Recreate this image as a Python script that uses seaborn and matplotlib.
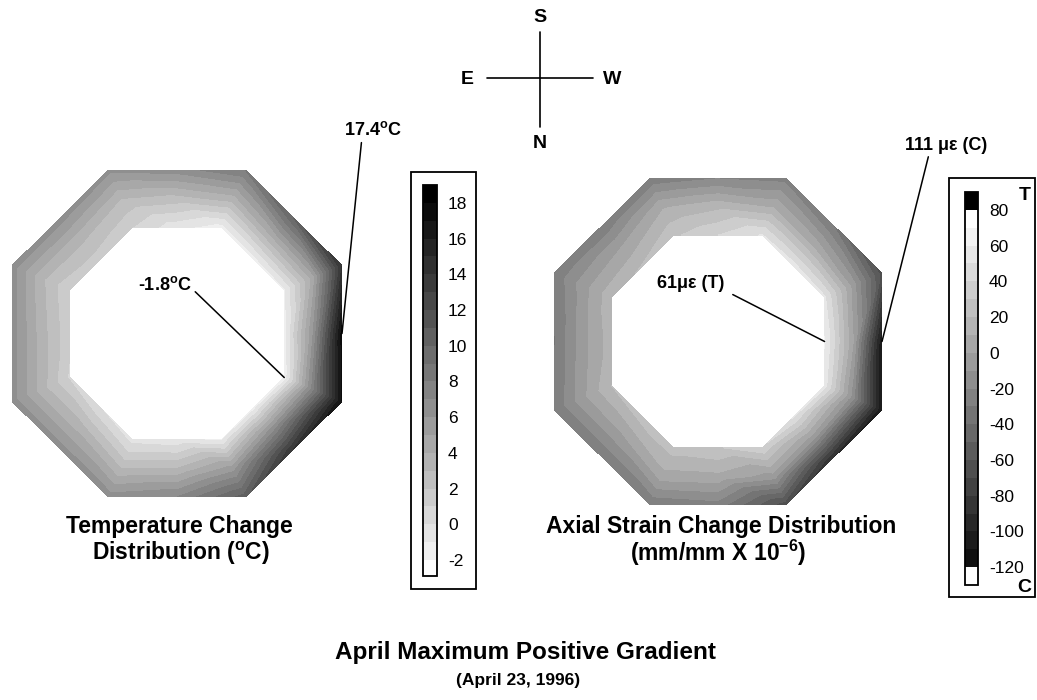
import numpy as np
import matplotlib
matplotlib.use("Agg")
import matplotlib.pyplot as plt
import matplotlib.tri as mtri
from matplotlib.colors import ListedColormap
from matplotlib.patches import Rectangle
import seaborn as sns

# Perimeter stations of the octagonal section (degrees, counter-clockwise from the W face)
station_deg = [0, 22.5, 45, 67.5, 90, 112.5, 135, 157.5,
               180, 202.5, 225, 247.5, 270, 292.5, 315, 337.5]

# Temperature change (deg C) at inner face, mid-wall and outer face
temp_inner = [-1.5, -1.2, -1.5, -1.5, -0.7, 1.0, 1.4, 1.0,
              1.2, 0.8, 0.0, -0.5, -0.8, -1.2, -1.5, -1.8]
temp_mid = [6.0, 4.5, 4.0, 3.5, 2.5, 3.0, 3.3, 3.3,
            3.5, 3.5, 3.5, 3.0, 3.0, 5.5, 6.5, 7.5]
temp_outer = [17.4, 14.0, 10.0, 8.0, 6.5, 6.3, 6.5, 6.5,
              6.5, 6.5, 6.5, 6.5, 7.0, 10.5, 14.0, 17.0]

# Axial strain change (microstrain, + tension / - compression)
strain_inner = [61, 52, 55, 51, 40, 28, 21, 17,
                15, 20, 25, 25, 29, 38, 51, 55]
strain_mid = [0, -5, 8, 8, 17, 8, 0, -5,
              -4, -3, -2, 5, 7, -5, -5, -16]
strain_outer = [-111, -65, -31, -25, -21, -29, -30, -29,
                -31, -30, -30, -30, -25, -67, -92, -110]

temp_levels = np.arange(-2, 20, 1)
temp_ticks = np.arange(-2, 20, 2)
strain_levels = np.arange(-120, 90, 10)
strain_ticks = np.arange(-120, 100, 20)

W, H = 1037, 700
INNER_APOTHEM = 0.65
ring_apothems = [INNER_APOTHEM, (INNER_APOTHEM + 1.0) / 2, 1.0]

sns.set_theme(style="white")
plt.rcParams["font.family"] = ["Liberation Sans", "DejaVu Sans"]
plt.rcParams["mathtext.fontset"] = "custom"
plt.rcParams["mathtext.rm"] = "Liberation Sans"
plt.rcParams["mathtext.bf"] = "Liberation Sans:bold"
plt.rcParams["mathtext.it"] = "Liberation Sans:italic"
plt.rcParams["axes.unicode_minus"] = False
for key in ("text.color", "axes.labelcolor", "xtick.color", "ytick.color", "axes.edgecolor"):
    plt.rcParams[key] = "black"


def section_mesh():
    th = np.deg2rad(station_deg)
    off = np.asarray(station_deg) % 45
    off = np.minimum(off, 45 - off)
    stretch = 1.0 / np.cos(np.deg2rad(off))
    xs = np.concatenate([a * stretch * np.cos(th) for a in ring_apothems])
    ys = np.concatenate([a * stretch * np.sin(th) for a in ring_apothems])
    n = len(th)
    tris = []
    for r in range(len(ring_apothems) - 1):
        for j in range(n):
            k = (j + 1) % n
            a0, a1 = r * n + j, r * n + k
            b0, b1 = (r + 1) * n + j, (r + 1) * n + k
            tris += [[a0, a1, b1], [a0, b1, b0]]
    return mtri.Triangulation(xs, ys, np.array(tris))


def px_axes(fig, x0, y0, x1, y1):
    return fig.add_axes([x0 / W, 1 - y1 / H, (x1 - x0) / W, (y1 - y0) / H])


fig = plt.figure(figsize=(W / 100, H / 100), dpi=100)

# overlay in pixel coordinates for compass, frames and captions
ov = fig.add_axes([0, 0, 1, 1])
ov.set_xlim(0, W)
ov.set_ylim(H, 0)
ov.axis("off")

tri = section_mesh()

# --- temperature section ---
temp_vals = np.concatenate([temp_inner, temp_mid, temp_outer])
temp_cmap = ListedColormap(sns.blend_palette(["#efefef", "#000000"], len(temp_levels) - 1))
temp_cmap.set_under("white")
axL = px_axes(fig, 12, 170, 342, 497)
csL = axL.tricontourf(tri, temp_vals, levels=temp_levels, cmap=temp_cmap, extend="min")
axL.set_xlim(-1, 1)
axL.set_ylim(-1, 1)
axL.axis("off")

# --- strain section ---
strain_vals = np.concatenate([strain_inner, strain_mid, strain_outer])
strain_cmap = ListedColormap(sns.blend_palette(["#101010", "#ffffff"], len(strain_levels) - 1))
strain_cmap.set_under("white")
strain_cmap.set_over("black")
axR = px_axes(fig, 554, 178, 882, 505)
csR = axR.tricontourf(tri, strain_vals, levels=strain_levels, cmap=strain_cmap, extend="both")
axR.set_xlim(-1, 1)
axR.set_ylim(-1, 1)
axR.axis("off")

# --- legends ---
def style_bar(cb, cax, ticks, bar_px):
    cb.set_ticks(ticks)
    cb.set_ticklabels([str(t) for t in ticks])
    cb.outline.set_linewidth(1.3)
    cb.outline.set_edgecolor("black")
    cax.yaxis.set_ticks_position("left")
    cax.tick_params(axis="y", direction="in", length=bar_px * 0.72, width=1.3,
                    color="black", labelcolor="black", left=True, right=False,
                    labelleft=False, labelright=True, labelsize=12.5, pad=8)
    cax.minorticks_off()


caxL = px_axes(fig, 423, 185, 437, 576)
cbL = fig.colorbar(csL, cax=caxL, extendrect=True, extendfrac=16 / 375)
style_bar(cbL, caxL, temp_ticks, 14)

caxR = px_axes(fig, 965, 192, 978, 585)
cbR = fig.colorbar(csR, cax=caxR, extendrect=True, extendfrac=0.05)
style_bar(cbR, caxR, strain_ticks, 13)

ov.add_patch(Rectangle((411, 172), 65, 417, fill=False, ec="black", lw=1.3))
ov.add_patch(Rectangle((949, 178), 86, 419, fill=False, ec="black", lw=1.3))
ov.text(1025, 195, "T", fontsize=14, fontweight="bold", ha="center", va="center")
ov.text(1024, 588, "C", fontsize=14, fontweight="bold", ha="center", va="center")

# --- compass ---
ov.plot([540, 540], [32, 127], color="black", lw=1.2)
ov.plot([487, 593], [78, 78], color="black", lw=1.2)
for lab, (x, y) in {"S": (540, 17), "N": (540, 143), "E": (467, 80), "W": (612, 80)}.items():
    ov.text(x, y, lab, fontsize=14, fontweight="bold", ha="center", va="center")

# --- value call-outs ---
nodes_x, nodes_y = tri.x, tri.y
n_st = len(station_deg)


def callout(ax, idx, text, xy_px, relpos):
    ax.annotate(text, xy=(nodes_x[idx], nodes_y[idx]), xycoords="data",
                xytext=(xy_px[0], H - xy_px[1]), textcoords="figure pixels",
                ha="center", va="center", fontsize=13, fontweight="bold",
                color="black", annotation_clip=False,
                arrowprops=dict(arrowstyle="-", color="black", lw=1.1,
                                shrinkA=0, shrinkB=0, relpos=relpos))


i_tmax = 2 * n_st + int(np.argmax(temp_outer))
i_tmin = int(np.argmin(temp_inner))
callout(axL, i_tmax, f"{temp_vals[i_tmax]:.1f}$^{{\\mathbf{{o}}}}$C", (373, 130), (0.3, -0.2))
callout(axL, i_tmin, f"{temp_vals[i_tmin]:.1f}$^{{\\mathbf{{o}}}}$C", (165, 285), (1.0, 0.3))

i_smax = int(np.argmax(strain_inner))
i_smin = 2 * n_st + int(np.argmin(strain_outer))
callout(axR, i_smax, f"{strain_vals[i_smax]:.0f}\u03bc\u03b5 (T)", (691, 283), (1.12, -0.18))
callout(axR, i_smin, f"{abs(strain_vals[i_smin]):.0f} \u03bc\u03b5 (C)", (946, 145), (0.29, -0.1))

# --- captions ---
cap = dict(fontsize=16.5, fontweight="bold", ha="center", va="center", color="black")
ov.text(179, 527, "Temperature Change", **cap)
ov.text(181, 553, "Distribution ($^{\\mathbf{o}}$C)", **cap)
ov.text(721, 527, "Axial Strain Change Distribution", **cap)
ov.text(718, 553, "(mm/mm X 10$^{\\mathbf{-6}}$)", **cap)
ov.text(525, 653, "April Maximum Positive Gradient", fontsize=17.5, fontweight="bold",
        ha="center", va="center", color="black")
ov.text(518, 680, "(April 23, 1996)", fontsize=12.5, fontweight="bold",
        ha="center", va="center", color="black")

fig.savefig("out.png", dpi=100)
